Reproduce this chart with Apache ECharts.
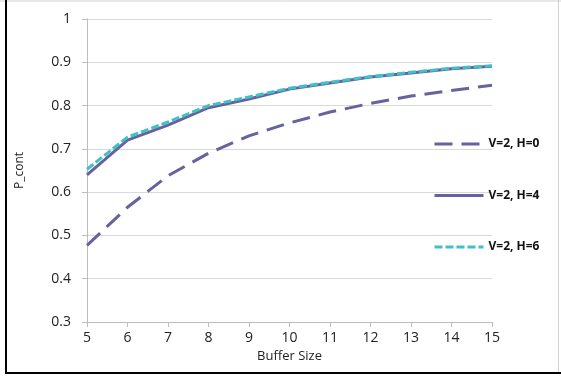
<!DOCTYPE html>
<html>
<head>
<meta charset="utf-8">
<script src="https://cdn.jsdelivr.net/npm/echarts@6/dist/echarts.min.js"></script>
<style>
html,body{margin:0;padding:0;background:#fff;}
#c{width:561px;height:377px;}
</style>
</head>
<body>
<div id="c"></div>
<script>
const bufferSizes = [5, 6, 7, 8, 9, 10, 11, 12, 13, 14, 15];
const seriesNames = ['V=2, H=0', 'V=2, H=4', 'V=2, H=6'];
const h0 = [0.477, 0.565, 0.638, 0.690, 0.730, 0.760, 0.785, 0.805, 0.822, 0.835, 0.847];
const h4 = [0.640, 0.720, 0.755, 0.795, 0.815, 0.838, 0.852, 0.866, 0.875, 0.885, 0.891];
const h6 = [0.653, 0.727, 0.762, 0.800, 0.820, 0.840, 0.854, 0.867, 0.877, 0.886, 0.892];
const yTicks = [0.3, 0.4, 0.5, 0.6, 0.7, 0.8, 0.9, 1];

const pair = arr => bufferSizes.map((x, i) => [x, arr[i]]);
const purple = '#6662A0';
const cyan = '#3FC2C6';
const font = 'Open Sans';

const chart = echarts.init(document.getElementById('c'), null, {renderer: 'canvas'});
chart.setOption({
  animation: false,
  backgroundColor: '#fff',
  grid: {left: 87, right: 69, top: 19, bottom: 55, containLabel: false},
  xAxis: {
    type: 'value', min: 5, max: 15, interval: 1,
    name: 'Buffer Size', nameLocation: 'middle', nameGap: 26,
    nameTextStyle: {fontFamily: font, fontSize: 13, color: '#222'},
    axisLine: {show: true, lineStyle: {color: '#BDBDBD', width: 1}},
    axisTick: {show: true, length: 5, inside: false, lineStyle: {color: '#BDBDBD'}},
    axisLabel: {fontFamily: font, fontSize: 14, color: '#222', margin: 9},
    splitLine: {show: false}
  },
  yAxis: {
    type: 'value', min: 0.3, max: 1, interval: 0.1,
    name: 'P_cont', nameLocation: 'middle', nameGap: 61, nameRotate: 90,
    nameTextStyle: {fontFamily: font, fontSize: 12, color: '#222'},
    axisLine: {show: true, lineStyle: {color: '#BDBDBD', width: 1}},
    axisTick: {show: true, length: 5, lineStyle: {color: '#BDBDBD'}},
    axisLabel: {fontFamily: font, fontSize: 14, color: '#222', margin: 16,
      formatter: v => { const t = yTicks.find(k => Math.abs(k - v) < 1e-6); return t === undefined ? '' : String(t); }},
    splitLine: {show: true, lineStyle: {color: '#D9D9D9', width: 1}}
  },
  legend: {
    orient: 'vertical', left: 433, top: 138, padding: 0,
    itemWidth: 49, itemHeight: 12, itemGap: 39.5,
    itemStyle: {opacity: 0},
    lineStyle: {width: 3},
    textStyle: {fontFamily: font, fontSize: 12, fontWeight: 'bold', color: '#111'},
    data: seriesNames
  },
  series: [
    {name: seriesNames[0], type: 'line', data: pair(h0), symbol: 'none', smooth: false,
      lineStyle: {color: purple, width: 3, type: [18, 9]}, itemStyle: {color: purple}, z: 2},
    {name: seriesNames[1], type: 'line', data: pair(h4), symbol: 'none',
      lineStyle: {color: purple, width: 3, type: 'solid'}, itemStyle: {color: purple}, z: 3},
    {name: seriesNames[2], type: 'line', data: pair(h6), symbol: 'none',
      lineStyle: {color: cyan, width: 3, type: [8, 3]}, itemStyle: {color: cyan}, z: 4}
  ],
  graphic: [
    {type: 'line', shape: {x1: 0, y1: 1, x2: 561, y2: 1}, style: {stroke: '#D0D0D0', lineWidth: 1}, silent: true},
    {type: 'line', shape: {x1: 558.5, y1: 0, x2: 558.5, y2: 374}, style: {stroke: '#D0D0D0', lineWidth: 1}, silent: true},
    {type: 'line', shape: {x1: 6, y1: 0, x2: 6, y2: 374}, style: {stroke: '#000', lineWidth: 2}, silent: true},
    {type: 'line', shape: {x1: 5, y1: 373, x2: 561, y2: 373}, style: {stroke: '#000', lineWidth: 2}, silent: true}
  ]
});
</script>
</body>
</html>
